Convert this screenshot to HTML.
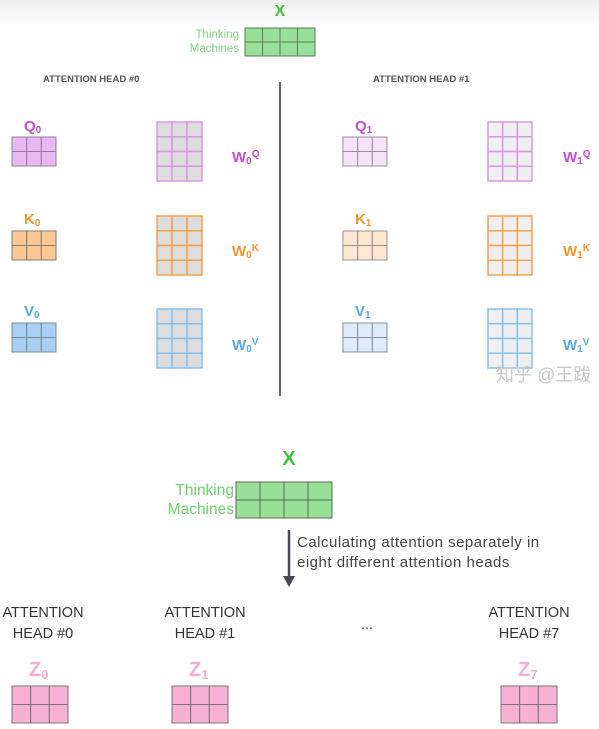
<!DOCTYPE html>
<html><head><meta charset="utf-8"><style>
html,body{margin:0;padding:0;background:#fff;width:599px;height:729px;overflow:hidden}
svg{display:block;font-family:"Liberation Sans","Noto Sans CJK SC",sans-serif}
</style></head><body>
<svg id="s" width="599" height="729" viewBox="0 0 599 729">
<defs><linearGradient id="tg" x1="0" y1="0" x2="0" y2="1"><stop offset="0" stop-color="#eeeeef"/><stop offset="1" stop-color="#ffffff"/></linearGradient></defs>
<rect x="0" y="0" width="599" height="26" fill="url(#tg)"/>
<g id="grids"></g>
<text x="280" y="16" font-size="16" font-weight="bold" fill="#3cc43c" text-anchor="middle">X</text>
<text x="239" y="38" font-size="11.5" fill="#7fd67f" text-anchor="end">Thinking</text>
<text x="239" y="52" font-size="11.5" fill="#7fd67f" text-anchor="end">Machines</text>
<text x="43" y="82" font-size="9.5" font-weight="bold" fill="#555">ATTENTION HEAD #0</text>
<text x="373" y="82" font-size="9.5" font-weight="bold" fill="#555">ATTENTION HEAD #1</text>
<line x1="280" y1="82" x2="280" y2="396" stroke="#333" stroke-width="1.5"/>
<g font-weight="bold" font-size="15">
<text x="24" y="131" fill="#c050d0">Q<tspan font-size="10" dy="2">0</tspan></text>
<text x="24" y="224" fill="#f0952e">K<tspan font-size="10" dy="2">0</tspan></text>
<text x="24" y="316" fill="#58a8e8">V<tspan font-size="10" dy="2">0</tspan></text>
<text x="355" y="131" fill="#c050d0">Q<tspan font-size="10" dy="2">1</tspan></text>
<text x="355" y="224" fill="#f0952e">K<tspan font-size="10" dy="2">1</tspan></text>
<text x="355" y="316" fill="#58a8e8">V<tspan font-size="10" dy="2">1</tspan></text>
<text x="232" y="162" fill="#c050d0">W<tspan font-size="10" dy="2">0</tspan><tspan font-size="10" dy="-7">Q</tspan></text>
<text x="232" y="256" fill="#f0952e">W<tspan font-size="10" dy="2">0</tspan><tspan font-size="10" dy="-7">K</tspan></text>
<text x="232" y="350" fill="#58a8e8">W<tspan font-size="10" dy="2">0</tspan><tspan font-size="10" dy="-7">V</tspan></text>
<text x="563" y="162" fill="#c050d0">W<tspan font-size="10" dy="2">1</tspan><tspan font-size="10" dy="-7">Q</tspan></text>
<text x="563" y="256" fill="#f0952e">W<tspan font-size="10" dy="2">1</tspan><tspan font-size="10" dy="-7">K</tspan></text>
<text x="563" y="350" fill="#58a8e8">W<tspan font-size="10" dy="2">1</tspan><tspan font-size="10" dy="-7">V</tspan></text>
</g>
<text x="496" y="381" font-size="18" fill="#c8c8c8">知乎 @王跋</text>
<text x="289" y="465" font-size="20" font-weight="bold" fill="#3cc43c" text-anchor="middle">X</text>
<text x="234" y="495" font-size="15.5" fill="#6fd06f" text-anchor="end">Thinking</text>
<text x="234" y="514" font-size="15.5" fill="#6fd06f" text-anchor="end">Machines</text>
<line x1="289" y1="530" x2="289" y2="578" stroke="#444b55" stroke-width="2.5"/>
<polygon points="283,576 295,576 289,587" fill="#444b55"/>
<text x="297" y="547" font-size="15" letter-spacing="0.5" fill="#444">Calculating attention separately in</text>
<text x="297" y="567" font-size="15" letter-spacing="0.5" fill="#444">eight different attention heads</text>
<g font-size="14.5" fill="#333" text-anchor="middle">
<text x="43" y="617">ATTENTION<tspan x="43" dy="21">HEAD #0</tspan></text>
<text x="205" y="617">ATTENTION<tspan x="205" dy="21">HEAD #1</tspan></text>
<text x="529" y="617">ATTENTION<tspan x="529" dy="21">HEAD #7</tspan></text>
<text x="367" y="629">...</text>
</g>
<g font-size="20" font-weight="bold" fill="#f8aed0">
<text x="29" y="676">Z<tspan font-size="13" dy="3">0</tspan></text>
<text x="189" y="676">Z<tspan font-size="13" dy="3">1</tspan></text>
<text x="518" y="676">Z<tspan font-size="13" dy="3">7</tspan></text>
</g>
</svg>
<script>
const gridNames=['x-top','q0','k0','v0','w0q','w0k','w0v','q1','k1','v1','w1q','w1k','w1v','x-matrix','z0','z1','z7'];
const gridCols=[4,3,3,3,3,3,3,3,3,3,3,3,3,4,3,3,3];
const gridRows=[2,2,2,2,4,4,4,2,2,2,4,4,4,2,2,2,2];
const gridBoxes=[[245,28,70,28],[12,137,44,29],[12,231,44,29],[12,323,44,29],[157,122,45,59],[157,216,45,59],[157,309,45,59],
[343,137,44,29],[343,231,44,29],[343,323,44,29],[488,122,44,59],[488,216,44,59],[488,309,44,59],
[236,482,96,36],[12,686,56,37],[172,686,56,37],[501,686,56,37]];
const gridFill=['#98e098','#e8b8f0','#fbc795','#a8d0f4','#dcdcdc','#dcdcdc','#dcdcdc','#f5e2f8','#fde7d3','#ddebfa','#efeff1','#efeff1','#efeff1','#98e098','#f9b1d3','#f9b1d3','#f9b1d3'];
const gridStroke=['#5a7a5a','#9a7aa0','#8a7a6a','#7a8a9a','#d59be0','#f5a24a','#88c0ee','#9a909a','#9a9090','#8a909a','#d59be0','#f5a24a','#88c0ee','#5a6a5a','#777','#777','#777'];
const NS='http://www.w3.org/2000/svg';
const g=document.getElementById('grids');
for(let i=0;i<gridNames.length;i++){
  const [x,y,w,h]=gridBoxes[i];
  const grp=document.createElementNS(NS,'g');
  
  
  const cw=w/gridCols[i],ch=h/gridRows[i];
  for(let r=0;r<gridRows[i];r++)for(let c=0;c<gridCols[i];c++){
    const rc=document.createElementNS(NS,'rect');
    rc.setAttribute('x',x+c*cw);rc.setAttribute('y',y+r*ch);
    rc.setAttribute('width',cw);rc.setAttribute('height',ch);
    rc.setAttribute('fill',gridFill[i]);rc.setAttribute('stroke',gridStroke[i]);
    rc.setAttribute('stroke-width',i>=4&&i<=6||i>=10&&i<=12?1.5:1);
    
    
    grp.appendChild(rc);
  }
  g.appendChild(grp);
}
</script>
</body></html>
